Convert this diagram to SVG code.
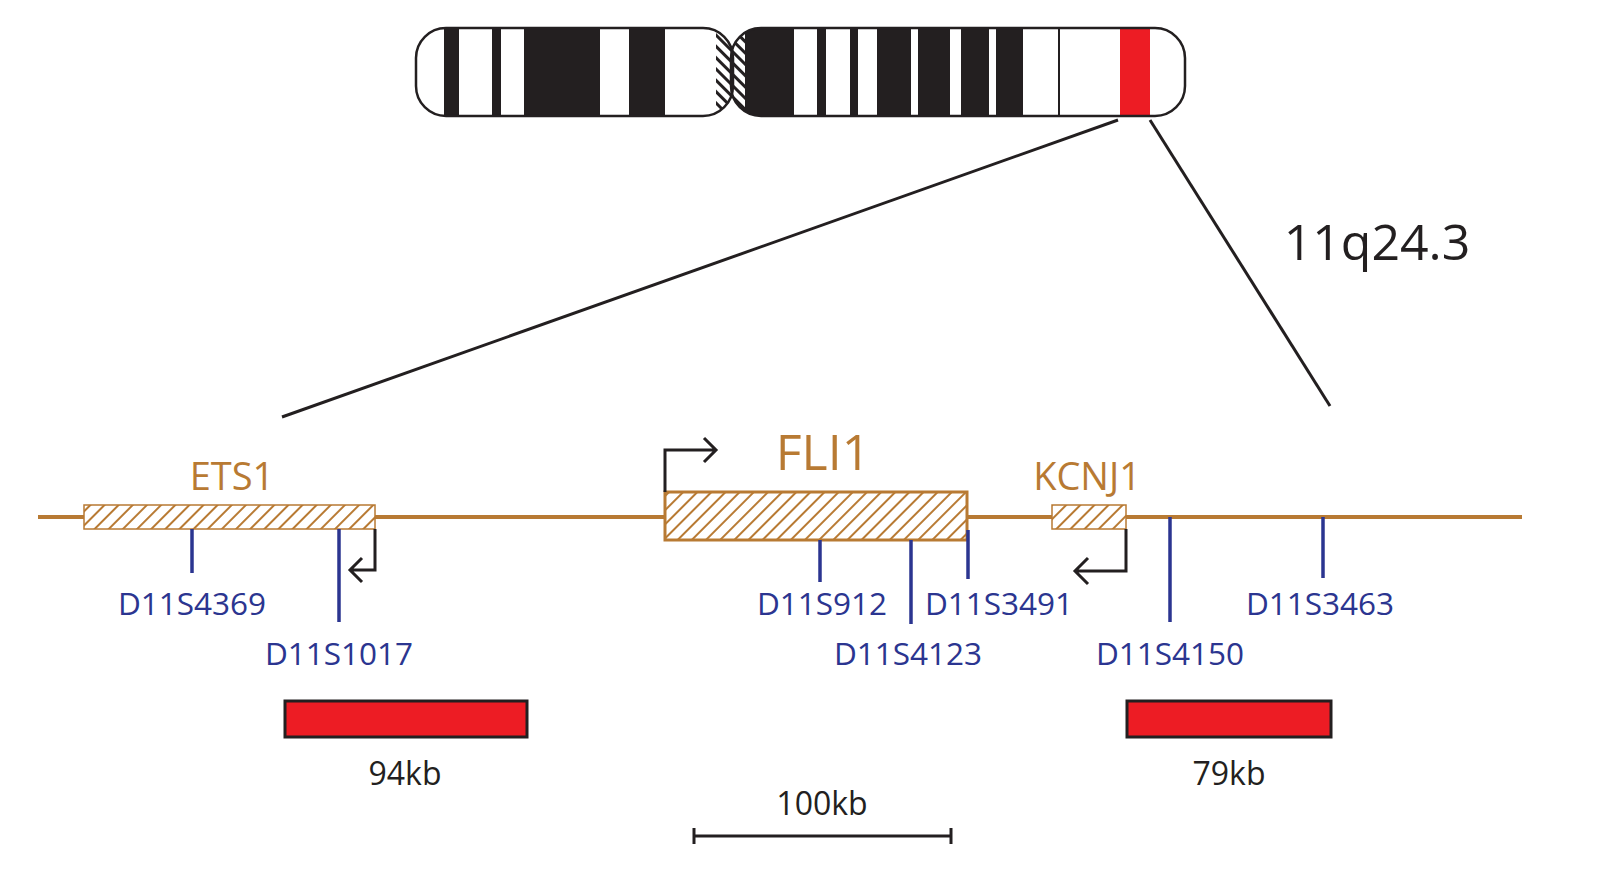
<svg xmlns="http://www.w3.org/2000/svg" width="1597" height="888" viewBox="0 0 1597 888">
<defs>
<style>
.gene{fill:#b87a33;font-family:"Open Sans","Liberation Sans",sans-serif;text-anchor:middle}
.mk{fill:#2b3590;font-family:"Open Sans","Liberation Sans",sans-serif;font-size:31.5px;text-anchor:middle}
.lb{fill:#231f20;font-family:"Open Sans","Liberation Sans",sans-serif;text-anchor:middle}
.mline{stroke:#2b3590;stroke-width:3.5}
.arr{fill:none;stroke:#231f20;stroke-width:3}
.blk{fill:#231f20}
</style>
<pattern id="hatch" patternUnits="userSpaceOnUse" width="10" height="10" patternTransform="rotate(45)">
<rect width="10" height="10" fill="#fff"/><rect width="2" height="10" fill="#b87a33"/>
</pattern>
<pattern id="chatch" patternUnits="userSpaceOnUse" width="8" height="8" patternTransform="rotate(-45)">
<rect width="8" height="8" fill="#fff"/><rect width="3" height="8" fill="#231f20"/>
</pattern>
<clipPath id="ca"><rect x="416" y="28" width="317" height="88" rx="30"/><rect x="731" y="28" width="454" height="88" rx="30"/></clipPath>
</defs>
<g id="chromosome">
<g clip-path="url(#ca)">
<rect x="416" y="28" width="770" height="88" fill="#fff"/>
<rect class="blk" x="444" y="28" width="15" height="88"/>
<rect class="blk" x="492" y="28" width="9" height="88"/>
<rect class="blk" x="524" y="28" width="76" height="88"/>
<rect class="blk" x="629" y="28" width="36" height="88"/>
<rect x="716" y="28" width="29" height="88" fill="url(#chatch)"/>
<rect class="blk" x="745" y="28" width="49" height="88"/>
<rect class="blk" x="817" y="28" width="9" height="88"/>
<rect class="blk" x="850" y="28" width="8" height="88"/>
<rect class="blk" x="877" y="28" width="34" height="88"/>
<rect class="blk" x="918" y="28" width="32" height="88"/>
<rect class="blk" x="961" y="28" width="28" height="88"/>
<rect class="blk" x="996" y="28" width="27" height="88"/>
<rect class="blk" x="1058" y="28" width="2" height="88"/>
<rect x="1120" y="28" width="30" height="88" fill="#ed1c24"/>
</g>
<rect x="416" y="28" width="317" height="88" rx="30" fill="none" stroke="#231f20" stroke-width="2.5"/>
<rect x="731" y="28" width="454" height="88" rx="30" fill="none" stroke="#231f20" stroke-width="2.5"/>
</g>
<g id="connectors" stroke="#231f20" stroke-width="3">
<line x1="1118" y1="120" x2="282" y2="417"/>
<line x1="1150" y1="120" x2="1330" y2="406"/>
<line x1="694" y1="836" x2="951" y2="836"/>
<line x1="694" y1="828" x2="694" y2="844"/>
<line x1="951" y1="828" x2="951" y2="844"/>
</g>
<text class="lb" x="1377" y="260" font-size="50">11q24.3</text>
<g id="backbone"><line x1="38" y1="517" x2="1522" y2="517" stroke="#b87a33" stroke-width="4"/></g>
<g id="ETS1">
<rect x="84" y="505" width="291" height="24" fill="url(#hatch)" stroke="#b87a33" stroke-width="1.5"/>
<text class="gene" x="232" y="490" font-size="38">ETS1</text>
<path class="arr" d="M375 529V570H350M362 558L350 570L362 582"/>
</g>
<g id="FLI1">
<rect x="665" y="492" width="302" height="48" fill="url(#hatch)" stroke="#b87a33" stroke-width="3"/>
<text class="gene" x="823" y="470" font-size="50">FLI1</text>
<path class="arr" d="M665 492V450H716M704 438L716 450L704 462"/>
</g>
<g id="KCNJ1">
<rect x="1052" y="505" width="74" height="24" fill="url(#hatch)" stroke="#b87a33" stroke-width="1.5"/>
<text class="gene" x="1087" y="490" font-size="38">KCNJ1</text>
<path class="arr" d="M1126 529V571H1075M1088 558L1075 571L1088 584"/>
</g>
<g id="markers">
<line class="mline" x1="192" y1="529" x2="192" y2="573"/><text class="mk" x="192" y="615">D11S4369</text>
<line class="mline" x1="339" y1="529" x2="339" y2="622"/><text class="mk" x="339" y="665">D11S1017</text>
<line class="mline" x1="820" y1="540" x2="820" y2="582"/><text class="mk" x="822" y="615">D11S912</text>
<line class="mline" x1="911" y1="540" x2="911" y2="624"/><text class="mk" x="908" y="665">D11S4123</text>
<line class="mline" x1="968" y1="530" x2="968" y2="579"/><text class="mk" x="999" y="615">D11S3491</text>
<line class="mline" x1="1170" y1="517" x2="1170" y2="622"/><text class="mk" x="1170" y="665">D11S4150</text>
<line class="mline" x1="1323" y1="517" x2="1323" y2="578"/><text class="mk" x="1320" y="615">D11S3463</text>
</g>
<g id="deletion94">
<rect x="285" y="701" width="242" height="36" fill="#ed1c24" stroke="#231f20" stroke-width="3"/>
<text class="lb" x="405" y="785" font-size="32">94kb</text>
</g>
<g id="deletion79">
<rect x="1127" y="701" width="204" height="36" fill="#ed1c24" stroke="#231f20" stroke-width="3"/>
<text class="lb" x="1229" y="785" font-size="32">79kb</text>
</g>
<text class="lb" x="822" y="815" font-size="32">100kb</text>
</svg>
